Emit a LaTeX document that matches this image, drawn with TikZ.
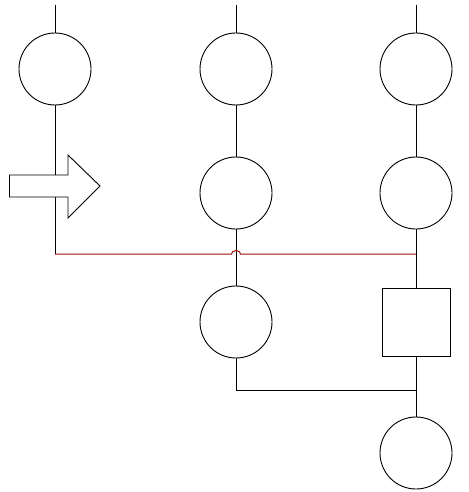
\documentclass[tikz,border=0pt]{standalone}
\definecolor{hopred}{RGB}{160,14,14}
\begin{document}
\begin{tikzpicture}[x=1pt,y=-1pt,
  circ/.style={circle,draw,minimum size=72pt,inner sep=0pt,line width=0.9pt,fill=white},
  sq/.style={rectangle,draw,minimum size=68pt,inner sep=0pt,line width=0.9pt,fill=white},
  wire/.style={line width=0.9pt},
  redwire/.style={line width=1pt,draw=hopred},
  bigarrow/.style={draw,line width=0.9pt,fill=white,line join=miter}]
\useasboundingbox (0,0) rectangle (468,492);
% top row
\node[circ] (a1) at (55,69) {};
\node[circ] (b1) at (236,69) {};
\node[circ] (c1) at (416,69) {};
% second row
\node[circ] (b2) at (236,193) {};
\node[circ] (c2) at (416,193) {};
% third row
\node[circ] (b3) at (236,322) {};
\node[sq] (c3) at (416,322) {};
% bottom
\node[circ] (c4) at (416,453) {};
% free ends and junctions
\coordinate (ta) at (55,5);
\coordinate (tb) at (236,5);
\coordinate (tc) at (416,5);
\coordinate (j1) at (55,254);
\coordinate (j3) at (416,254);
\coordinate (hopL) at (231.5,254);
\coordinate (j4) at (416,390);
% connectors
\draw[wire] (ta) -- (a1.north);
\draw[wire] (tb) -- (b1.north);
\draw[wire] (tc) -- (c1.north);
\draw[wire] (a1.south) -- (j1);
\draw[wire] (b1.south) -- (b2.north);
\draw[wire] (b2.south) -- (b3.north);
\draw[wire] (c1.south) -- (c2.north);
\draw[wire] (c2.south) -- (c3.north);
\draw[wire] (c3.south) -- (c4.north);
\draw[wire] (b3.south) |- (j4);
\draw[redwire] (j1) -- (hopL) arc[start angle=180,end angle=360,x radius=4.5,y radius=3.5] -- (j3);
% block arrow
\draw[bigarrow] (9.5,175) -- (68,175) -- (68,155) -- (100,186) -- (68,218) -- (68,197) -- (9.5,197) -- cycle;
\end{tikzpicture}
\end{document}
